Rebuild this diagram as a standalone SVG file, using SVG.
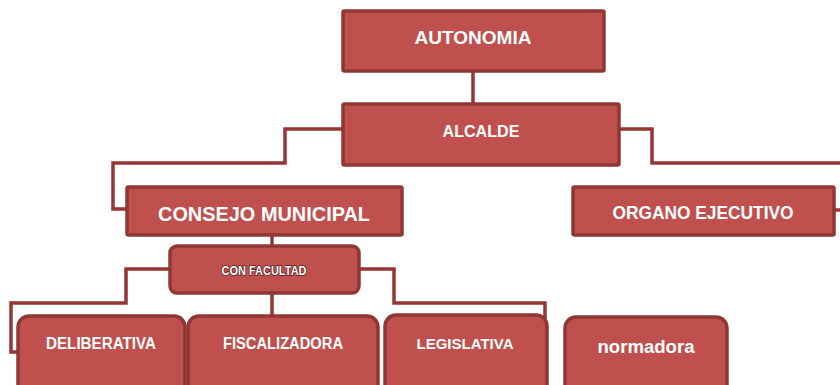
<svg xmlns="http://www.w3.org/2000/svg" width="840" height="385" viewBox="0 0 840 385">
<style>
.box{fill:#C0504D;stroke:#8E3735;stroke-width:3.5}
.t{font-family:"Liberation Sans",Arial,sans-serif;font-weight:bold;fill:#fff;text-anchor:middle}
.small{font-family:"Liberation Sans",Arial,sans-serif;font-weight:bold;fill:#fff;stroke:#5a1f1e;stroke-width:1.6;paint-order:stroke;text-anchor:middle}
.c{fill:none;stroke:#943634;stroke-width:3.5}
</style>
<rect width="840" height="385" fill="#fff"/>
<g id="connectors">
<path class="c" d="M473,71 V104"/>
<path class="c" d="M343,129 H285 V163 H113 V209 H127"/>
<path class="c" d="M619,129 H652 V163 H842"/>
<path class="c" d="M834,210 H842"/>
<path class="c" d="M272,235 V246"/>
<path class="c" d="M170,269 H126 V303 H11 V352 H25"/>
<path class="c" d="M272,293 V316"/>
<path class="c" d="M359,269 H394 V303 H545 V350 H532"/>
</g>
<g id="autonomia">
<rect class="box" x="343" y="11" width="261" height="60" rx="1.5"/>
<text class="t" x="473" y="44" font-size="17.5" textLength="117" lengthAdjust="spacingAndGlyphs">AUTONOMIA</text>
</g>
<g id="alcalde">
<rect class="box" x="343" y="104" width="276" height="61" rx="1.5"/>
<text class="t" x="481" y="137" font-size="17" textLength="77" lengthAdjust="spacingAndGlyphs">ALCALDE</text>
</g>
<g id="consejo">
<rect class="box" x="127" y="187" width="275" height="48" rx="1.5"/>
<text class="t" x="264" y="221" font-size="19.5" textLength="212" lengthAdjust="spacingAndGlyphs">CONSEJO MUNICIPAL</text>
</g>
<g id="organo">
<rect class="box" x="573" y="187" width="261" height="48" rx="1.5"/>
<text class="t" x="703" y="219" font-size="18" textLength="181" lengthAdjust="spacingAndGlyphs">ORGANO EJECUTIVO</text>
</g>
<g id="facultad">
<rect class="box" x="170" y="246" width="189" height="47" rx="7"/>
<text class="small" x="264" y="275" font-size="12" textLength="85" lengthAdjust="spacingAndGlyphs">CON FACULTAD</text>
</g>
<g id="deliberativa">
<rect class="box" x="18" y="316" width="167" height="85" rx="11"/>
<text class="t" x="101" y="349" font-size="16" textLength="110" lengthAdjust="spacingAndGlyphs">DELIBERATIVA</text>
</g>
<g id="fiscalizadora">
<rect class="box" x="188" y="316" width="190" height="85" rx="11"/>
<text class="t" x="283" y="349" font-size="16" textLength="120" lengthAdjust="spacingAndGlyphs">FISCALIZADORA</text>
</g>
<g id="legislativa">
<rect class="box" x="385" y="315" width="162" height="86" rx="11"/>
<text class="t" x="465" y="349" font-size="15" textLength="97" lengthAdjust="spacingAndGlyphs">LEGISLATIVA</text>
</g>
<g id="normadora">
<rect class="box" x="565" y="317" width="162" height="84" rx="11"/>
<text class="t" x="646" y="353" font-size="18" textLength="97" lengthAdjust="spacingAndGlyphs">normadora</text>
</g>
</svg>
